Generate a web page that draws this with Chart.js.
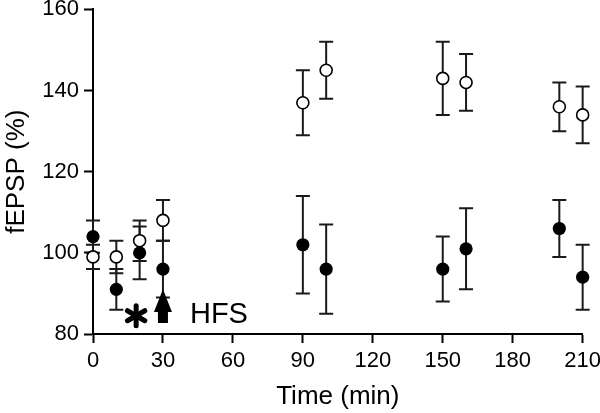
<!DOCTYPE html>
<html>
<head>
<meta charset="utf-8">
<script src="https://cdn.jsdelivr.net/npm/chart.js@4"></script>
<style>
  html, body { margin: 0; padding: 0; background: #fff; overflow: hidden; }
  #wrap { width: 600px; height: 413px; overflow: hidden; }
</style>
</head>
<body>
<div id="wrap"><canvas id="chart1" width="606" height="413"></canvas></div>
<script>
const times = [0, 10, 20, 30, 90, 100, 150, 160, 200, 210];
const openMean = [99, 99, 103, 108, 137, 145, 143, 142, 136, 134];
const openSem = [3, 4, 5, 5, 8, 7, 9, 7, 6, 7];
const filledMean = [104, 91, 100, 96, 102, 96, 96, 101, 106, 94];
const filledSem = [4, 5, 6.5, 7, 12, 11, 8, 10, 7, 8];
const xTicks = [0, 30, 60, 90, 120, 150, 180, 210];
const yTicks = [80, 100, 120, 140, 160];

const chart1 = document.getElementById('chart1').getContext('2d');

// error bars go under the markers
const errorBars = {
    id: 'errorBars',
    beforeDatasetsDraw(chart) {
        const ctx = chart.ctx;
        const xs = chart.scales.x, ys = chart.scales.y;
        ctx.save();
        ctx.strokeStyle = '#1a1a1a';
        ctx.lineWidth = 2;
        [[filledMean, filledSem], [openMean, openSem]].forEach(([mean, sem]) => {
            times.forEach((t, i) => {
                const x = xs.getPixelForValue(t);
                const top = ys.getPixelForValue(mean[i] + sem[i]);
                const bot = ys.getPixelForValue(mean[i] - sem[i]);
                ctx.beginPath();
                ctx.moveTo(x, top); ctx.lineTo(x, bot);
                ctx.moveTo(x - 7, top); ctx.lineTo(x + 7, top);
                ctx.moveTo(x - 7, bot); ctx.lineTo(x + 7, bot);
                ctx.stroke();
            });
        });
        ctx.restore();
    }
};

// asterisk, HFS arrow and label
const hfsMark = {
    id: 'hfsMark',
    afterDatasetsDraw(chart) {
        const ctx = chart.ctx;
        const xs = chart.scales.x, ys = chart.scales.y;
        const ax = xs.getPixelForValue(30);
        const headTop = ys.getPixelForValue(91);
        const headBot = ys.getPixelForValue(85.4);
        const shaftBot = ys.getPixelForValue(82.7);
        ctx.save();
        ctx.fillStyle = '#000';
        ctx.beginPath();
        ctx.moveTo(ax, headTop);
        ctx.lineTo(ax + 9, headBot);
        ctx.lineTo(ax + 5, headBot);
        ctx.lineTo(ax + 5, shaftBot);
        ctx.lineTo(ax - 5, shaftBot);
        ctx.lineTo(ax - 5, headBot);
        ctx.lineTo(ax - 9, headBot);
        ctx.closePath();
        ctx.fill();

        ctx.font = '29px "Liberation Sans", Arial, sans-serif';
        ctx.textBaseline = 'alphabetic';
        ctx.fillText('HFS', ax + 27, shaftBot);

        // asterisk
        const cx = xs.getPixelForValue(18.5), cy = ys.getPixelForValue(84.5);
        ctx.strokeStyle = '#000';
        ctx.lineWidth = 5;
        ctx.lineCap = 'round';
        for (let k = 0; k < 3; k++) {
            const a = Math.PI / 2 + k * Math.PI / 3;
            ctx.beginPath();
            ctx.moveTo(cx + 10 * Math.cos(a), cy + 10 * Math.sin(a));
            ctx.lineTo(cx - 10 * Math.cos(a), cy - 10 * Math.sin(a));
            ctx.stroke();
        }
        ctx.restore();
    }
};

const fontFamily = '"Liberation Sans", Arial, sans-serif';
const titleFont = { family: fontFamily, size: 26 };

let fepspChart = new Chart(chart1, {
    type: 'scatter',
    data: {
        datasets: [{
            label: 'filled',
            data: times.map((t, i) => ({ x: t, y: filledMean[i] })),
            pointRadius: 6.6,
            pointBackgroundColor: '#000',
            pointBorderColor: '#000',
            pointBorderWidth: 0,
            clip: false
        },
        {
            label: 'open',
            data: times.map((t, i) => ({ x: t, y: openMean[i] })),
            pointRadius: 6,
            pointBackgroundColor: '#fff',
            pointBorderColor: '#000',
            pointBorderWidth: 1.6,
            clip: false
        }]
    },
    options: {
        responsive: false,
        animation: false,
        layout: { padding: { top: 0, right: 0, left: 0, bottom: 0 } },
        plugins: { legend: { display: false }, tooltip: { enabled: false } },
        scales: {
            x: {
                type: 'linear',
                min: 0, max: 210,
                afterBuildTicks: (s) => { s.ticks = xTicks.map(v => ({ value: v })); },
                afterFit: (s) => { s.height = 79; },
                border: { display: true, color: '#000', width: 2 },
                grid: { drawOnChartArea: false, drawTicks: true, tickLength: 9, tickWidth: 2, tickColor: '#000' },
                ticks: { color: '#000', font: { family: fontFamily, size: 22 }, padding: 5, maxRotation: 0 },
                title: { display: true, text: 'Time (min)', color: '#000', font: titleFont, padding: { top: 0, bottom: 1 } }
            },
            y: {
                min: 80, max: 160,
                afterBuildTicks: (s) => { s.ticks = yTicks.map(v => ({ value: v })); },
                afterFit: (s) => { s.width = 93; },
                border: { display: true, color: '#000', width: 2 },
                grid: { drawOnChartArea: false, drawTicks: true, tickLength: 9, tickWidth: 2, tickColor: '#000' },
                ticks: { color: '#000', font: { family: fontFamily, size: 22, lineHeight: 0.4 }, padding: 5 },
                title: { display: true, text: 'fEPSP (%)', color: '#000', font: titleFont, padding: { top: 1.5, bottom: 0 } }
            }
        }
    },
    plugins: [errorBars, hfsMark]
});
</script>
</body>
</html>
